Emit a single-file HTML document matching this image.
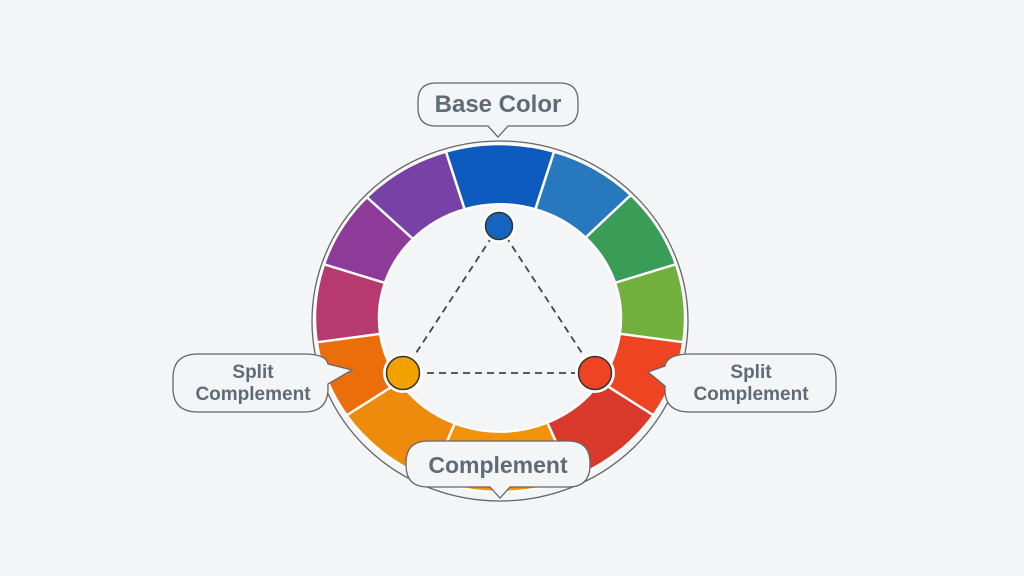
<!DOCTYPE html>
<html><head><meta charset="utf-8"><style>
html,body{margin:0;padding:0;background:#f4f5f7;}
svg{display:block}
text{font-family:"Liberation Sans",sans-serif;font-weight:bold;fill:#5f6b76;text-anchor:middle}
</style></head><body>
<svg width="1024" height="576" viewBox="0 0 1024 576">
<rect width="1024" height="576" fill="#f4f5f7"/>
<ellipse cx="500" cy="321" rx="188" ry="180" fill="none" stroke="#666" stroke-width="1.3"/>
<g transform="translate(500,318) scale(1,0.94)" stroke="#fff" stroke-width="2.5" stroke-linejoin="round">
<path fill="#0d5bbf" d="M-54.1,-176.9 A185 185 0 0 1 54.1,-176.9 L35.4,-115.7 A121 121 0 0 0 -35.4,-115.7Z"/>
<path fill="#2878be" d="M54.1,-176.9 A185 185 0 0 1 130.8,-130.8 L85.6,-85.6 A121 121 0 0 0 35.4,-115.7Z"/>
<path fill="#3a9d57" d="M130.8,-130.8 A185 185 0 0 1 175.9,-57.2 L115.1,-37.4 A121 121 0 0 0 85.6,-85.6Z"/>
<path fill="#72b03e" d="M175.9,-57.2 A185 185 0 0 1 183.2,25.8 L119.8,16.8 A121 121 0 0 0 115.1,-37.4Z"/>
<path fill="#ee4422" d="M183.2,25.8 A185 185 0 0 1 153.4,103.5 L100.3,67.7 A121 121 0 0 0 119.8,16.8Z"/>
<path fill="#d9392a" d="M153.4,103.5 A185 185 0 0 1 72.3,170.3 L47.3,111.4 A121 121 0 0 0 100.3,67.7Z"/>
<path fill="#f0920a" d="M72.3,170.3 A185 185 0 0 1 -69.3,171.5 L-45.3,112.2 A121 121 0 0 0 47.3,111.4Z"/>
<path fill="#ef8b0c" d="M-69.3,171.5 A185 185 0 0 1 -153.4,103.5 L-100.3,67.7 A121 121 0 0 0 -45.3,112.2Z"/>
<path fill="#ec6e0a" d="M-153.4,103.5 A185 185 0 0 1 -183.2,25.8 L-119.8,16.8 A121 121 0 0 0 -100.3,67.7Z"/>
<path fill="#b63a6e" d="M-183.2,25.8 A185 185 0 0 1 -175.9,-57.2 L-115.1,-37.4 A121 121 0 0 0 -119.8,16.8Z"/>
<path fill="#8e3a98" d="M-175.9,-57.2 A185 185 0 0 1 -133.1,-128.5 L-87.0,-84.1 A121 121 0 0 0 -115.1,-37.4Z"/>
<path fill="#7741a6" d="M-133.1,-128.5 A185 185 0 0 1 -54.1,-176.9 L-35.4,-115.7 A121 121 0 0 0 -87.0,-84.1Z"/>
</g>
<g stroke="#444" stroke-width="1.8" stroke-dasharray="7 5" fill="none">
<line x1="499" y1="226" x2="403" y2="373"/>
<line x1="499" y1="226" x2="595" y2="373"/>
<line x1="403" y1="373" x2="595" y2="373"/>
</g>
<circle cx="499" cy="226" r="17" fill="#fff"/>
<circle cx="499" cy="226" r="13.5" fill="#1565c0" stroke="#333" stroke-width="1.5"/>
<circle cx="403" cy="373" r="20" fill="#fff"/>
<circle cx="403" cy="373" r="16.5" fill="#f2a200" stroke="#333" stroke-width="1.5"/>
<circle cx="595" cy="373" r="20" fill="#fff"/>
<circle cx="595" cy="373" r="16.5" fill="#ee4422" stroke="#333" stroke-width="1.5"/>
<g fill="#f4f5f7" stroke="#666" stroke-width="1.3">
<path d="M436,83 H560 Q578,83 578,101 V108 Q578,126 560,126 H508 L498,137 L488,126 H436 Q418,126 418,108 V101 Q418,83 436,83 Z"/>
<path d="M428,441 H568 Q590,441 590,463 V465 Q590,487 568,487 H510 L500,498 L490,487 H428 Q406,487 406,465 V463 Q406,441 428,441Z"/>
<path d="M198,354 H304 Q326,354 328,364 L352,370 L328,384 V388 Q328,412 304,412 H198 Q173,412 173,388 V378 Q173,354 198,354Z"/>
<path d="M690,354 H812 Q836,354 836,378 V388 Q836,412 812,412 H690 Q665,412 665,390 V386 L648,372 L665,366 Q667,354 690,354 Z"/>
</g>
<text x="498" y="112" font-size="24">Base Color</text>
<text x="498" y="473" font-size="23">Complement</text>
<text x="253" y="378" font-size="19">Split</text>
<text x="253" y="400" font-size="19">Complement</text>
<text x="751" y="378" font-size="19">Split</text>
<text x="751" y="400" font-size="19">Complement</text>
</svg>
</body></html>
